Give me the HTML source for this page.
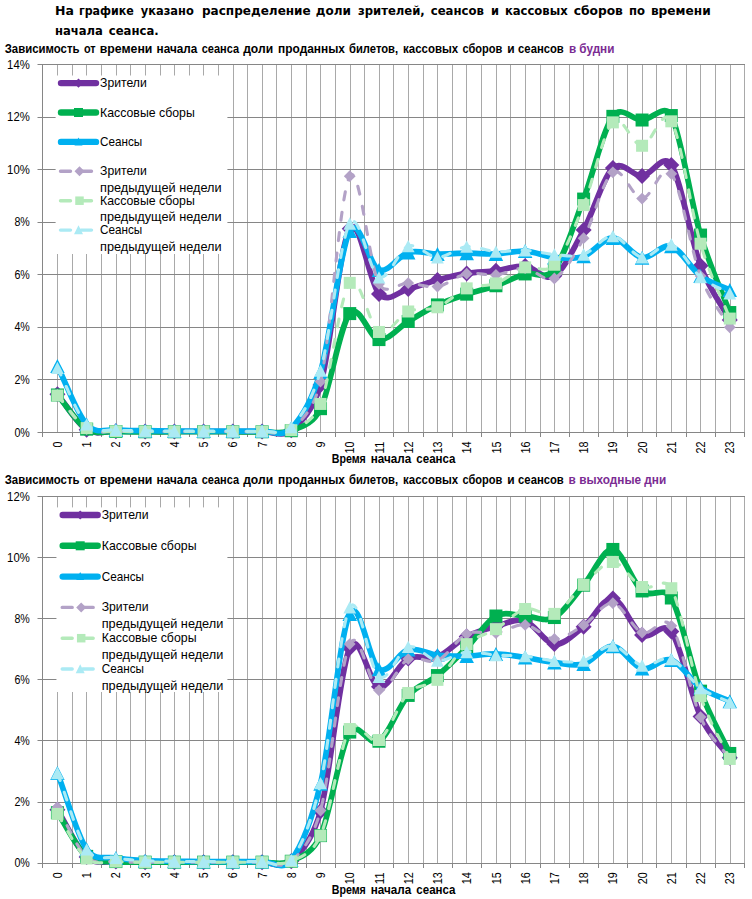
<!DOCTYPE html>
<html lang="ru"><head><meta charset="utf-8"><title>График</title>
<style>html,body{margin:0;padding:0;background:#fff}svg{display:block}</style></head>
<body>
<svg width="752" height="899" viewBox="0 0 752 899" font-family="Liberation Sans, sans-serif">
<rect width="752" height="899" fill="#fff"/>
<text x="55" y="15" font-family="DejaVu Sans, Liberation Sans, sans-serif" font-weight="bold" font-size="12.9" textLength="18.9" lengthAdjust="spacingAndGlyphs">На</text>
<text x="78.9" y="15" font-family="DejaVu Sans, Liberation Sans, sans-serif" font-weight="bold" font-size="12.9" textLength="54.9" lengthAdjust="spacingAndGlyphs">графике</text>
<text x="140.8" y="15" font-family="DejaVu Sans, Liberation Sans, sans-serif" font-weight="bold" font-size="12.9" textLength="53" lengthAdjust="spacingAndGlyphs">указано</text>
<text x="202" y="15" font-family="DejaVu Sans, Liberation Sans, sans-serif" font-weight="bold" font-size="12.9" textLength="108.7" lengthAdjust="spacingAndGlyphs">распределение</text>
<text x="315.7" y="15" font-family="DejaVu Sans, Liberation Sans, sans-serif" font-weight="bold" font-size="12.9" textLength="35.2" lengthAdjust="spacingAndGlyphs">доли</text>
<text x="357.9" y="15" font-family="DejaVu Sans, Liberation Sans, sans-serif" font-weight="bold" font-size="12.9" textLength="66.9" lengthAdjust="spacingAndGlyphs">зрителей,</text>
<text x="430.7" y="15" font-family="DejaVu Sans, Liberation Sans, sans-serif" font-weight="bold" font-size="12.9" textLength="53.3" lengthAdjust="spacingAndGlyphs">сеансов</text>
<text x="490.9" y="15" font-family="DejaVu Sans, Liberation Sans, sans-serif" font-weight="bold" font-size="12.9" textLength="8" lengthAdjust="spacingAndGlyphs">и</text>
<text x="504.9" y="15" font-family="DejaVu Sans, Liberation Sans, sans-serif" font-weight="bold" font-size="12.9" textLength="62.8" lengthAdjust="spacingAndGlyphs">кассовых</text>
<text x="573.7" y="15" font-family="DejaVu Sans, Liberation Sans, sans-serif" font-weight="bold" font-size="12.9" textLength="49.2" lengthAdjust="spacingAndGlyphs">сборов</text>
<text x="628.9" y="15" font-family="DejaVu Sans, Liberation Sans, sans-serif" font-weight="bold" font-size="12.9" textLength="16" lengthAdjust="spacingAndGlyphs">по</text>
<text x="650.9" y="15" font-family="DejaVu Sans, Liberation Sans, sans-serif" font-weight="bold" font-size="12.9" textLength="59.8" lengthAdjust="spacingAndGlyphs">времени</text>
<text x="55" y="35" font-family="DejaVu Sans, Liberation Sans, sans-serif" font-weight="bold" font-size="12.9" textLength="47.9" lengthAdjust="spacingAndGlyphs">начала</text>
<text x="108.8" y="35" font-family="DejaVu Sans, Liberation Sans, sans-serif" font-weight="bold" font-size="12.9" textLength="49.9" lengthAdjust="spacingAndGlyphs">сеанса.</text>
<path d="M57.5 64V433M72.5 64V433M86.5 64V433M101.5 64V433M116.5 64V433M130.5 64V433M145.5 64V433M160.5 64V433M174.5 64V433M189.5 64V433M203.5 64V433M218.5 64V433M233.5 64V433M247.5 64V433M262.5 64V433M276.5 64V433M291.5 64V433M306.5 64V433M320.5 64V433M335.5 64V433M350.5 64V433M364.5 64V433M379.5 64V433M393.5 64V433M408.5 64V433M423.5 64V433M437.5 64V433M452.5 64V433M466.5 64V433M481.5 64V433M496.5 64V433M510.5 64V433M525.5 64V433M540.5 64V433M554.5 64V433M569.5 64V433M583.5 64V433M598.5 64V433M613.5 64V433M627.5 64V433M642.5 64V433M656.5 64V433M671.5 64V433M686.5 64V433M700.5 64V433M715.5 64V433M730.5 64V433M744.5 64V433" stroke="#A9A9A9" stroke-width="1" fill="none"/>
<path d="M37.5 432.5H745M37.5 379.5H745M37.5 327.5H745M37.5 274.5H745M37.5 222.5H745M37.5 169.5H745M37.5 117.5H745M37.5 64.5H745M42.5 64V433M42.5 432.5V437M72.5 432.5V437M101.5 432.5V437M130.5 432.5V437M160.5 432.5V437M189.5 432.5V437M218.5 432.5V437M247.5 432.5V437M276.5 432.5V437M306.5 432.5V437M335.5 432.5V437M364.5 432.5V437M393.5 432.5V437M423.5 432.5V437M452.5 432.5V437M481.5 432.5V437M510.5 432.5V437M540.5 432.5V437M569.5 432.5V437M598.5 432.5V437M627.5 432.5V437M656.5 432.5V437M686.5 432.5V437M715.5 432.5V437M744.5 432.5V437" stroke="#868686" stroke-width="1" fill="none"/>
<rect x="55.6" y="75.5" width="171.8" height="178.5" fill="#fff"/>
<path d="M57.42 394.22C67.16 406.04 76.91 423.5 86.65 429.67C96.39 435.85 106.14 430.94 115.88 431.25C125.63 431.56 135.37 431.47 145.12 431.51C154.86 431.56 164.61 431.51 174.35 431.51C184.09 431.51 193.84 431.51 203.58 431.51C213.33 431.51 223.07 431.51 232.82 431.51C242.56 431.51 252.31 431.73 262.05 431.51C271.79 431.29 281.54 437.95 291.28 430.2C301.03 422.45 313.02 410.86 320.52 385.02C330.26 351.45 340.01 243.94 349.75 228.75C359.49 213.56 369.24 283.86 378.98 293.89C388.73 303.91 398.47 291.22 408.22 288.9C417.96 286.58 427.71 282.55 437.45 279.97C447.19 277.38 456.94 274.93 466.68 273.4C476.43 271.87 486.17 272 495.92 270.77C505.66 269.55 515.41 265.22 525.15 266.05C534.89 266.88 544.64 281.76 554.38 275.76C564.13 269.77 573.87 248.01 583.62 230.06C593.36 212.12 603.11 177.1 612.85 168.08C622.59 159.06 632.34 176.49 642.08 175.96C651.83 175.44 662.79 151.84 671.32 164.93C681.06 179.9 690.81 239.96 700.55 265.78C710.29 291.61 720.04 301.85 729.78 319.89" stroke="#7030A0" stroke-width="5.7" fill="none" stroke-linejoin="round" stroke-linecap="round"/>
<path d="M57.42 386.22L65.42 394.22L57.42 402.22L49.42 394.22Z" fill="#7030A0"/>
<path d="M86.65 421.67L94.65 429.67L86.65 437.67L78.65 429.67Z" fill="#7030A0"/>
<path d="M115.88 423.25L123.88 431.25L115.88 439.25L107.88 431.25Z" fill="#7030A0"/>
<path d="M145.12 423.51L153.12 431.51L145.12 439.51L137.12 431.51Z" fill="#7030A0"/>
<path d="M174.35 423.51L182.35 431.51L174.35 439.51L166.35 431.51Z" fill="#7030A0"/>
<path d="M203.58 423.51L211.58 431.51L203.58 439.51L195.58 431.51Z" fill="#7030A0"/>
<path d="M232.82 423.51L240.82 431.51L232.82 439.51L224.82 431.51Z" fill="#7030A0"/>
<path d="M262.05 423.51L270.05 431.51L262.05 439.51L254.05 431.51Z" fill="#7030A0"/>
<path d="M291.28 422.2L299.28 430.2L291.28 438.2L283.28 430.2Z" fill="#7030A0"/>
<path d="M320.52 377.02L328.52 385.02L320.52 393.02L312.52 385.02Z" fill="#7030A0"/>
<path d="M349.75 220.75L357.75 228.75L349.75 236.75L341.75 228.75Z" fill="#7030A0"/>
<path d="M378.98 285.89L386.98 293.89L378.98 301.89L370.98 293.89Z" fill="#7030A0"/>
<path d="M408.22 280.9L416.22 288.9L408.22 296.9L400.22 288.9Z" fill="#7030A0"/>
<path d="M437.45 271.97L445.45 279.97L437.45 287.97L429.45 279.97Z" fill="#7030A0"/>
<path d="M466.68 265.4L474.68 273.4L466.68 281.4L458.68 273.4Z" fill="#7030A0"/>
<path d="M495.92 262.77L503.92 270.77L495.92 278.77L487.92 270.77Z" fill="#7030A0"/>
<path d="M525.15 258.05L533.15 266.05L525.15 274.05L517.15 266.05Z" fill="#7030A0"/>
<path d="M554.38 267.76L562.38 275.76L554.38 283.76L546.38 275.76Z" fill="#7030A0"/>
<path d="M583.62 222.06L591.62 230.06L583.62 238.06L575.62 230.06Z" fill="#7030A0"/>
<path d="M612.85 160.08L620.85 168.08L612.85 176.08L604.85 168.08Z" fill="#7030A0"/>
<path d="M642.08 167.96L650.08 175.96L642.08 183.96L634.08 175.96Z" fill="#7030A0"/>
<path d="M671.32 156.93L679.32 164.93L671.32 172.93L663.32 164.93Z" fill="#7030A0"/>
<path d="M700.55 257.78L708.55 265.78L700.55 273.78L692.55 265.78Z" fill="#7030A0"/>
<path d="M729.78 311.89L737.78 319.89L729.78 327.89L721.78 319.89Z" fill="#7030A0"/>
<path d="M57.42 395C67.16 406.39 76.91 423.06 86.65 429.15C96.39 435.23 106.14 431.07 115.88 431.51C125.63 431.95 135.37 431.73 145.12 431.77C154.86 431.82 164.61 431.77 174.35 431.77C184.09 431.77 193.84 431.77 203.58 431.77C213.33 431.77 223.07 431.77 232.82 431.77C242.56 431.77 252.31 431.95 262.05 431.77C271.79 431.6 281.54 434.58 291.28 430.72C301.03 426.87 312.34 425.05 320.52 408.66C330.26 389.14 340.01 325.1 349.75 313.59C359.49 302.07 369.24 338.27 378.98 339.59C388.73 340.9 398.47 327.24 408.22 321.46C417.96 315.69 427.71 309.47 437.45 304.92C447.19 300.37 456.94 297.35 466.68 294.15C476.43 290.95 486.17 289.12 495.92 285.75C505.66 282.37 515.41 276.64 525.15 273.93C534.89 271.21 545.28 281.11 554.38 269.46C564.13 256.99 573.87 224.59 583.62 199.07C593.36 173.55 603.11 129.52 612.85 116.34C621.61 104.5 632.34 120.15 642.08 120.02C651.83 119.89 664.62 102.37 671.32 115.55C681.06 134.73 690.81 202.22 700.55 235.06C710.29 267.89 720.04 286.71 729.78 312.53" stroke="#00B050" stroke-width="5.7" fill="none" stroke-linejoin="round" stroke-linecap="round"/>
<rect x="50.92" y="388.5" width="13" height="13" fill="#00B050"/>
<rect x="80.15" y="422.65" width="13" height="13" fill="#00B050"/>
<rect x="109.38" y="425.01" width="13" height="13" fill="#00B050"/>
<rect x="138.62" y="425.27" width="13" height="13" fill="#00B050"/>
<rect x="167.85" y="425.27" width="13" height="13" fill="#00B050"/>
<rect x="197.08" y="425.27" width="13" height="13" fill="#00B050"/>
<rect x="226.32" y="425.27" width="13" height="13" fill="#00B050"/>
<rect x="255.55" y="425.27" width="13" height="13" fill="#00B050"/>
<rect x="284.78" y="424.22" width="13" height="13" fill="#00B050"/>
<rect x="314.02" y="402.16" width="13" height="13" fill="#00B050"/>
<rect x="343.25" y="307.09" width="13" height="13" fill="#00B050"/>
<rect x="372.48" y="333.09" width="13" height="13" fill="#00B050"/>
<rect x="401.72" y="314.96" width="13" height="13" fill="#00B050"/>
<rect x="430.95" y="298.42" width="13" height="13" fill="#00B050"/>
<rect x="460.18" y="287.65" width="13" height="13" fill="#00B050"/>
<rect x="489.42" y="279.25" width="13" height="13" fill="#00B050"/>
<rect x="518.65" y="267.43" width="13" height="13" fill="#00B050"/>
<rect x="547.88" y="262.96" width="13" height="13" fill="#00B050"/>
<rect x="577.12" y="192.57" width="13" height="13" fill="#00B050"/>
<rect x="606.35" y="109.84" width="13" height="13" fill="#00B050"/>
<rect x="635.58" y="113.52" width="13" height="13" fill="#00B050"/>
<rect x="664.82" y="109.05" width="13" height="13" fill="#00B050"/>
<rect x="694.05" y="228.56" width="13" height="13" fill="#00B050"/>
<rect x="723.28" y="306.03" width="13" height="13" fill="#00B050"/>
<path d="M57.42 366.11C67.16 385.55 76.91 413.78 86.65 424.42C96.39 435.06 106.14 428.89 115.88 429.94C125.63 430.99 135.37 430.55 145.12 430.72C154.86 430.9 164.61 430.94 174.35 430.99C184.09 431.03 193.84 430.99 203.58 430.99C213.33 430.99 223.07 430.99 232.82 430.99C242.56 430.99 252.31 431.42 262.05 430.99C271.79 430.55 281.54 438.21 291.28 428.36C301.03 418.51 311.48 402.37 320.52 371.89C330.26 339.02 340.01 248.1 349.75 231.12C359.49 214.13 369.24 266.44 378.98 269.99C388.73 273.53 398.47 255.06 408.22 252.39C417.96 249.72 427.71 253.83 437.45 253.97C447.19 254.1 456.94 253.18 466.68 253.18C476.43 253.18 486.17 254.32 495.92 253.97C505.66 253.62 515.41 250.51 525.15 251.08C534.89 251.65 544.64 256.5 554.38 257.38C564.13 258.26 573.87 259.57 583.62 256.33C593.36 253.09 603.11 237.73 612.85 237.94C622.59 238.16 632.34 256.24 642.08 257.64C651.83 259.04 661.57 243.28 671.32 246.35C681.06 249.41 690.81 268.76 700.55 276.03C710.29 283.29 720.04 285.31 729.78 289.95" stroke="#00B0F0" stroke-width="5.7" fill="none" stroke-linejoin="round" stroke-linecap="round"/>
<path d="M57.42 359.11L64.67 373.11L50.17 373.11Z" fill="#00B0F0"/>
<path d="M86.65 417.42L93.9 431.42L79.4 431.42Z" fill="#00B0F0"/>
<path d="M115.88 422.94L123.13 436.94L108.63 436.94Z" fill="#00B0F0"/>
<path d="M145.12 423.72L152.37 437.72L137.87 437.72Z" fill="#00B0F0"/>
<path d="M174.35 423.99L181.6 437.99L167.1 437.99Z" fill="#00B0F0"/>
<path d="M203.58 423.99L210.83 437.99L196.33 437.99Z" fill="#00B0F0"/>
<path d="M232.82 423.99L240.07 437.99L225.57 437.99Z" fill="#00B0F0"/>
<path d="M262.05 423.99L269.3 437.99L254.8 437.99Z" fill="#00B0F0"/>
<path d="M291.28 421.36L298.53 435.36L284.03 435.36Z" fill="#00B0F0"/>
<path d="M320.52 364.89L327.77 378.89L313.27 378.89Z" fill="#00B0F0"/>
<path d="M349.75 224.12L357 238.12L342.5 238.12Z" fill="#00B0F0"/>
<path d="M378.98 262.99L386.23 276.99L371.73 276.99Z" fill="#00B0F0"/>
<path d="M408.22 245.39L415.47 259.39L400.97 259.39Z" fill="#00B0F0"/>
<path d="M437.45 246.97L444.7 260.97L430.2 260.97Z" fill="#00B0F0"/>
<path d="M466.68 246.18L473.93 260.18L459.43 260.18Z" fill="#00B0F0"/>
<path d="M495.92 246.97L503.17 260.97L488.67 260.97Z" fill="#00B0F0"/>
<path d="M525.15 244.08L532.4 258.08L517.9 258.08Z" fill="#00B0F0"/>
<path d="M554.38 250.38L561.63 264.38L547.13 264.38Z" fill="#00B0F0"/>
<path d="M583.62 249.33L590.87 263.33L576.37 263.33Z" fill="#00B0F0"/>
<path d="M612.85 230.94L620.1 244.94L605.6 244.94Z" fill="#00B0F0"/>
<path d="M642.08 250.64L649.33 264.64L634.83 264.64Z" fill="#00B0F0"/>
<path d="M671.32 239.35L678.57 253.35L664.07 253.35Z" fill="#00B0F0"/>
<path d="M700.55 269.03L707.8 283.03L693.3 283.03Z" fill="#00B0F0"/>
<path d="M729.78 282.95L737.03 296.95L722.53 296.95Z" fill="#00B0F0"/>
<path d="M57.42 395C67.16 406.39 76.91 423.11 86.65 429.15C96.39 435.19 106.14 430.86 115.88 431.25C125.63 431.64 135.37 431.47 145.12 431.51C154.86 431.56 164.61 431.51 174.35 431.51C184.09 431.51 193.84 431.51 203.58 431.51C213.33 431.51 223.07 431.51 232.82 431.51C242.56 431.51 252.31 431.82 262.05 431.51C271.79 431.21 281.54 437.99 291.28 429.67C301.03 421.36 314.19 409.02 320.52 381.61C330.26 339.37 340.01 192.51 349.75 176.22C359.49 159.94 369.24 266.09 378.98 283.91C386 296.74 398.47 282.68 408.22 283.12C417.96 283.56 427.71 288.11 437.45 286.53C447.19 284.96 456.94 275.59 466.68 273.66C476.43 271.74 486.17 275.9 495.92 274.98C505.66 274.06 515.41 267.58 525.15 268.15C534.89 268.72 544.64 283.38 554.38 278.39C564.13 273.4 573.87 255.89 583.62 238.21C593.36 220.52 603.11 178.89 612.85 172.28C622.59 165.67 632.34 198.29 642.08 198.55C651.83 198.81 661.57 160.95 671.32 173.86C681.06 186.77 690.81 250.46 700.55 276.03C710.29 301.59 720.04 310.17 729.78 327.24" stroke="#B3A2C7" stroke-width="3.1" fill="none" stroke-linejoin="round" stroke-linecap="round" stroke-dasharray="8 12.5"/>
<path d="M57.42 389.1L63.32 395L57.42 400.9L51.52 395Z" fill="#B3A2C7"/>
<path d="M86.65 423.25L92.55 429.15L86.65 435.05L80.75 429.15Z" fill="#B3A2C7"/>
<path d="M115.88 425.35L121.78 431.25L115.88 437.15L109.98 431.25Z" fill="#B3A2C7"/>
<path d="M145.12 425.61L151.02 431.51L145.12 437.41L139.22 431.51Z" fill="#B3A2C7"/>
<path d="M174.35 425.61L180.25 431.51L174.35 437.41L168.45 431.51Z" fill="#B3A2C7"/>
<path d="M203.58 425.61L209.48 431.51L203.58 437.41L197.68 431.51Z" fill="#B3A2C7"/>
<path d="M232.82 425.61L238.72 431.51L232.82 437.41L226.92 431.51Z" fill="#B3A2C7"/>
<path d="M262.05 425.61L267.95 431.51L262.05 437.41L256.15 431.51Z" fill="#B3A2C7"/>
<path d="M291.28 423.77L297.18 429.67L291.28 435.57L285.38 429.67Z" fill="#B3A2C7"/>
<path d="M320.52 375.71L326.42 381.61L320.52 387.51L314.62 381.61Z" fill="#B3A2C7"/>
<path d="M349.75 170.32L355.65 176.22L349.75 182.12L343.85 176.22Z" fill="#B3A2C7"/>
<path d="M378.98 278.01L384.88 283.91L378.98 289.81L373.08 283.91Z" fill="#B3A2C7"/>
<path d="M408.22 277.22L414.12 283.12L408.22 289.02L402.32 283.12Z" fill="#B3A2C7"/>
<path d="M437.45 280.63L443.35 286.53L437.45 292.43L431.55 286.53Z" fill="#B3A2C7"/>
<path d="M466.68 267.76L472.58 273.66L466.68 279.56L460.78 273.66Z" fill="#B3A2C7"/>
<path d="M495.92 269.08L501.82 274.98L495.92 280.88L490.02 274.98Z" fill="#B3A2C7"/>
<path d="M525.15 262.25L531.05 268.15L525.15 274.05L519.25 268.15Z" fill="#B3A2C7"/>
<path d="M554.38 272.49L560.28 278.39L554.38 284.29L548.48 278.39Z" fill="#B3A2C7"/>
<path d="M583.62 232.31L589.52 238.21L583.62 244.11L577.72 238.21Z" fill="#B3A2C7"/>
<path d="M612.85 166.38L618.75 172.28L612.85 178.18L606.95 172.28Z" fill="#B3A2C7"/>
<path d="M642.08 192.65L647.98 198.55L642.08 204.45L636.18 198.55Z" fill="#B3A2C7"/>
<path d="M671.32 167.96L677.22 173.86L671.32 179.76L665.42 173.86Z" fill="#B3A2C7"/>
<path d="M700.55 270.13L706.45 276.03L700.55 281.93L694.65 276.03Z" fill="#B3A2C7"/>
<path d="M729.78 321.34L735.68 327.24L729.78 333.14L723.88 327.24Z" fill="#B3A2C7"/>
<path d="M57.42 395.53C67.16 406.39 76.91 422.14 86.65 428.1C96.39 434.05 106.14 430.68 115.88 431.25C125.63 431.82 135.37 431.47 145.12 431.51C154.86 431.56 164.61 431.51 174.35 431.51C184.09 431.51 193.84 431.51 203.58 431.51C213.33 431.51 223.07 431.51 232.82 431.51C242.56 431.51 252.31 431.73 262.05 431.51C271.79 431.29 281.54 434.8 291.28 430.2C301.03 425.6 313.27 422.2 320.52 403.93C330.26 379.38 340.01 294.85 349.75 282.86C359.49 270.86 369.24 327.2 378.98 331.97C388.73 336.74 398.47 315.6 408.22 311.48C417.96 307.37 427.71 311.13 437.45 307.28C447.19 303.43 456.94 292.36 466.68 288.37C476.43 284.39 486.17 286.88 495.92 283.38C505.66 279.88 515.41 270.47 525.15 267.36C534.89 264.25 544.64 275.11 554.38 264.73C564.13 254.36 573.87 228.84 583.62 205.11C593.36 181.39 603.11 132.27 612.85 122.38C622.59 112.49 632.34 145.93 642.08 145.76C651.83 145.58 661.57 105 671.32 121.33C681.06 137.66 690.81 210.85 700.55 243.72C710.29 276.6 720.04 293.62 729.78 318.58" stroke="#B4EABA" stroke-width="3.1" fill="none" stroke-linejoin="round" stroke-linecap="round" stroke-dasharray="8 12.5"/>
<rect x="51.42" y="389.53" width="12" height="12" fill="#B4EABA"/>
<rect x="80.65" y="422.1" width="12" height="12" fill="#B4EABA"/>
<rect x="109.88" y="425.25" width="12" height="12" fill="#B4EABA"/>
<rect x="139.12" y="425.51" width="12" height="12" fill="#B4EABA"/>
<rect x="168.35" y="425.51" width="12" height="12" fill="#B4EABA"/>
<rect x="197.58" y="425.51" width="12" height="12" fill="#B4EABA"/>
<rect x="226.82" y="425.51" width="12" height="12" fill="#B4EABA"/>
<rect x="256.05" y="425.51" width="12" height="12" fill="#B4EABA"/>
<rect x="285.28" y="424.2" width="12" height="12" fill="#B4EABA"/>
<rect x="314.52" y="397.93" width="12" height="12" fill="#B4EABA"/>
<rect x="343.75" y="276.86" width="12" height="12" fill="#B4EABA"/>
<rect x="372.98" y="325.97" width="12" height="12" fill="#B4EABA"/>
<rect x="402.22" y="305.48" width="12" height="12" fill="#B4EABA"/>
<rect x="431.45" y="301.28" width="12" height="12" fill="#B4EABA"/>
<rect x="460.68" y="282.37" width="12" height="12" fill="#B4EABA"/>
<rect x="489.92" y="277.38" width="12" height="12" fill="#B4EABA"/>
<rect x="519.15" y="261.36" width="12" height="12" fill="#B4EABA"/>
<rect x="548.38" y="258.73" width="12" height="12" fill="#B4EABA"/>
<rect x="577.62" y="199.11" width="12" height="12" fill="#B4EABA"/>
<rect x="606.85" y="116.38" width="12" height="12" fill="#B4EABA"/>
<rect x="636.08" y="139.76" width="12" height="12" fill="#B4EABA"/>
<rect x="665.32" y="115.33" width="12" height="12" fill="#B4EABA"/>
<rect x="694.55" y="237.72" width="12" height="12" fill="#B4EABA"/>
<rect x="723.78" y="312.58" width="12" height="12" fill="#B4EABA"/>
<path d="M57.42 367.95C67.16 386.78 76.91 414.09 86.65 424.42C96.39 434.75 106.14 428.89 115.88 429.94C125.63 430.99 135.37 430.55 145.12 430.72C154.86 430.9 164.61 430.94 174.35 430.99C184.09 431.03 193.84 430.99 203.58 430.99C213.33 430.99 223.07 430.99 232.82 430.99C242.56 430.99 252.31 431.64 262.05 430.99C271.79 430.33 281.54 437.12 291.28 427.05C301.03 416.98 311.74 401.14 320.52 370.58C330.26 336.65 340.01 239.04 349.75 223.5C359.49 207.96 369.24 273.58 378.98 277.34C388.73 281.11 398.47 249.41 408.22 246.09C417.96 242.76 427.71 257.29 437.45 257.38C447.19 257.47 456.94 247.57 466.68 246.61C476.43 245.65 486.17 250.99 495.92 251.6C505.66 252.21 515.41 249.81 525.15 250.29C534.89 250.77 544.64 253.79 554.38 254.49C564.13 255.19 573.87 257.55 583.62 254.49C593.36 251.43 603.11 235.62 612.85 236.11C622.59 236.59 632.34 255.98 642.08 257.38C651.83 258.78 661.57 241.23 671.32 244.51C681.06 247.79 690.81 268.94 700.55 277.08C710.29 285.22 720.04 287.93 729.78 293.36" stroke="#ABEAF4" stroke-width="3.1" fill="none" stroke-linejoin="round" stroke-linecap="round" stroke-dasharray="8 12.5"/>
<path d="M57.42 361.8L63.82 374.1L51.02 374.1Z" fill="#ABEAF4"/>
<path d="M86.65 418.27L93.05 430.57L80.25 430.57Z" fill="#ABEAF4"/>
<path d="M115.88 423.79L122.28 436.09L109.48 436.09Z" fill="#ABEAF4"/>
<path d="M145.12 424.57L151.52 436.87L138.72 436.87Z" fill="#ABEAF4"/>
<path d="M174.35 424.84L180.75 437.14L167.95 437.14Z" fill="#ABEAF4"/>
<path d="M203.58 424.84L209.98 437.14L197.18 437.14Z" fill="#ABEAF4"/>
<path d="M232.82 424.84L239.22 437.14L226.42 437.14Z" fill="#ABEAF4"/>
<path d="M262.05 424.84L268.45 437.14L255.65 437.14Z" fill="#ABEAF4"/>
<path d="M291.28 420.9L297.68 433.2L284.88 433.2Z" fill="#ABEAF4"/>
<path d="M320.52 364.43L326.92 376.73L314.12 376.73Z" fill="#ABEAF4"/>
<path d="M349.75 217.35L356.15 229.65L343.35 229.65Z" fill="#ABEAF4"/>
<path d="M378.98 271.19L385.38 283.49L372.58 283.49Z" fill="#ABEAF4"/>
<path d="M408.22 239.94L414.62 252.24L401.82 252.24Z" fill="#ABEAF4"/>
<path d="M437.45 251.23L443.85 263.53L431.05 263.53Z" fill="#ABEAF4"/>
<path d="M466.68 240.46L473.08 252.76L460.28 252.76Z" fill="#ABEAF4"/>
<path d="M495.92 245.45L502.32 257.75L489.52 257.75Z" fill="#ABEAF4"/>
<path d="M525.15 244.14L531.55 256.44L518.75 256.44Z" fill="#ABEAF4"/>
<path d="M554.38 248.34L560.78 260.64L547.98 260.64Z" fill="#ABEAF4"/>
<path d="M583.62 248.34L590.02 260.64L577.22 260.64Z" fill="#ABEAF4"/>
<path d="M612.85 229.96L619.25 242.26L606.45 242.26Z" fill="#ABEAF4"/>
<path d="M642.08 251.23L648.48 263.53L635.68 263.53Z" fill="#ABEAF4"/>
<path d="M671.32 238.36L677.72 250.66L664.92 250.66Z" fill="#ABEAF4"/>
<path d="M700.55 270.93L706.95 283.23L694.15 283.23Z" fill="#ABEAF4"/>
<path d="M729.78 287.21L736.18 299.51L723.38 299.51Z" fill="#ABEAF4"/>
<text x="29.8" y="436.5" font-size="12.7" fill="#000" text-anchor="end" textLength="15.4" lengthAdjust="spacingAndGlyphs" >0%</text>
<text x="29.8" y="383.97" font-size="12.7" fill="#000" text-anchor="end" textLength="15.4" lengthAdjust="spacingAndGlyphs" >2%</text>
<text x="29.8" y="331.44" font-size="12.7" fill="#000" text-anchor="end" textLength="15.4" lengthAdjust="spacingAndGlyphs" >4%</text>
<text x="29.8" y="278.91" font-size="12.7" fill="#000" text-anchor="end" textLength="15.4" lengthAdjust="spacingAndGlyphs" >6%</text>
<text x="29.8" y="226.39" font-size="12.7" fill="#000" text-anchor="end" textLength="15.4" lengthAdjust="spacingAndGlyphs" >8%</text>
<text x="29.8" y="173.86" font-size="12.7" fill="#000" text-anchor="end" textLength="22.7" lengthAdjust="spacingAndGlyphs" >10%</text>
<text x="29.8" y="121.33" font-size="12.7" fill="#000" text-anchor="end" textLength="22.7" lengthAdjust="spacingAndGlyphs" >12%</text>
<text x="29.8" y="68.8" font-size="12.7" fill="#000" text-anchor="end" textLength="22.7" lengthAdjust="spacingAndGlyphs" >14%</text>
<text transform="translate(62.02 441.5) rotate(-90)" font-size="12.4" text-anchor="end" textLength="6" lengthAdjust="spacingAndGlyphs">0</text>
<text transform="translate(91.25 441.5) rotate(-90)" font-size="12.4" text-anchor="end" textLength="6" lengthAdjust="spacingAndGlyphs">1</text>
<text transform="translate(120.48 441.5) rotate(-90)" font-size="12.4" text-anchor="end" textLength="6" lengthAdjust="spacingAndGlyphs">2</text>
<text transform="translate(149.72 441.5) rotate(-90)" font-size="12.4" text-anchor="end" textLength="6" lengthAdjust="spacingAndGlyphs">3</text>
<text transform="translate(178.95 441.5) rotate(-90)" font-size="12.4" text-anchor="end" textLength="6" lengthAdjust="spacingAndGlyphs">4</text>
<text transform="translate(208.18 441.5) rotate(-90)" font-size="12.4" text-anchor="end" textLength="6" lengthAdjust="spacingAndGlyphs">5</text>
<text transform="translate(237.42 441.5) rotate(-90)" font-size="12.4" text-anchor="end" textLength="6" lengthAdjust="spacingAndGlyphs">6</text>
<text transform="translate(266.65 441.5) rotate(-90)" font-size="12.4" text-anchor="end" textLength="6" lengthAdjust="spacingAndGlyphs">7</text>
<text transform="translate(295.88 441.5) rotate(-90)" font-size="12.4" text-anchor="end" textLength="6" lengthAdjust="spacingAndGlyphs">8</text>
<text transform="translate(325.12 441.5) rotate(-90)" font-size="12.4" text-anchor="end" textLength="6" lengthAdjust="spacingAndGlyphs">9</text>
<text transform="translate(354.35 441.5) rotate(-90)" font-size="12.4" text-anchor="end" textLength="12" lengthAdjust="spacingAndGlyphs">10</text>
<text transform="translate(383.58 441.5) rotate(-90)" font-size="12.4" text-anchor="end" textLength="12" lengthAdjust="spacingAndGlyphs">11</text>
<text transform="translate(412.82 441.5) rotate(-90)" font-size="12.4" text-anchor="end" textLength="12" lengthAdjust="spacingAndGlyphs">12</text>
<text transform="translate(442.05 441.5) rotate(-90)" font-size="12.4" text-anchor="end" textLength="12" lengthAdjust="spacingAndGlyphs">13</text>
<text transform="translate(471.28 441.5) rotate(-90)" font-size="12.4" text-anchor="end" textLength="12" lengthAdjust="spacingAndGlyphs">14</text>
<text transform="translate(500.52 441.5) rotate(-90)" font-size="12.4" text-anchor="end" textLength="12" lengthAdjust="spacingAndGlyphs">15</text>
<text transform="translate(529.75 441.5) rotate(-90)" font-size="12.4" text-anchor="end" textLength="12" lengthAdjust="spacingAndGlyphs">16</text>
<text transform="translate(558.98 441.5) rotate(-90)" font-size="12.4" text-anchor="end" textLength="12" lengthAdjust="spacingAndGlyphs">17</text>
<text transform="translate(588.22 441.5) rotate(-90)" font-size="12.4" text-anchor="end" textLength="12" lengthAdjust="spacingAndGlyphs">18</text>
<text transform="translate(617.45 441.5) rotate(-90)" font-size="12.4" text-anchor="end" textLength="12" lengthAdjust="spacingAndGlyphs">19</text>
<text transform="translate(646.68 441.5) rotate(-90)" font-size="12.4" text-anchor="end" textLength="12" lengthAdjust="spacingAndGlyphs">20</text>
<text transform="translate(675.92 441.5) rotate(-90)" font-size="12.4" text-anchor="end" textLength="12" lengthAdjust="spacingAndGlyphs">21</text>
<text transform="translate(705.15 441.5) rotate(-90)" font-size="12.4" text-anchor="end" textLength="12" lengthAdjust="spacingAndGlyphs">22</text>
<text transform="translate(734.38 441.5) rotate(-90)" font-size="12.4" text-anchor="end" textLength="12" lengthAdjust="spacingAndGlyphs">23</text>
<text x="331.7" y="463.3" font-size="13.3" fill="#000" font-weight="bold" textLength="34.1" lengthAdjust="spacingAndGlyphs" >Время</text>
<text x="370.8" y="463.3" font-size="13.3" fill="#000" font-weight="bold" textLength="40.5" lengthAdjust="spacingAndGlyphs" >начала</text>
<text x="416.3" y="463.3" font-size="13.3" fill="#000" font-weight="bold" textLength="39.2" lengthAdjust="spacingAndGlyphs" >сеанса</text>
<text x="4.7" y="52.9" font-size="13.3" fill="#000" font-weight="bold" textLength="74.8" lengthAdjust="spacingAndGlyphs" >Зависимость</text>
<text x="83.9" y="52.9" font-size="13.3" fill="#000" font-weight="bold" textLength="11.7" lengthAdjust="spacingAndGlyphs" >от</text>
<text x="99.7" y="52.9" font-size="13.3" fill="#000" font-weight="bold" textLength="52.7" lengthAdjust="spacingAndGlyphs" >времени</text>
<text x="156.6" y="52.9" font-size="13.3" fill="#000" font-weight="bold" textLength="40.7" lengthAdjust="spacingAndGlyphs" >начала</text>
<text x="201.7" y="52.9" font-size="13.3" fill="#000" font-weight="bold" textLength="37.3" lengthAdjust="spacingAndGlyphs" >сеанса</text>
<text x="243.2" y="52.9" font-size="13.3" fill="#000" font-weight="bold" textLength="29.9" lengthAdjust="spacingAndGlyphs" >доли</text>
<text x="278.1" y="52.9" font-size="13.3" fill="#000" font-weight="bold" textLength="66.8" lengthAdjust="spacingAndGlyphs" >проданных</text>
<text x="349" y="52.9" font-size="13.3" fill="#000" font-weight="bold" textLength="49.1" lengthAdjust="spacingAndGlyphs" >билетов,</text>
<text x="403.1" y="52.9" font-size="13.3" fill="#000" font-weight="bold" textLength="55.1" lengthAdjust="spacingAndGlyphs" >кассовых</text>
<text x="462.4" y="52.9" font-size="13.3" fill="#000" font-weight="bold" textLength="39.9" lengthAdjust="spacingAndGlyphs" >сборов</text>
<text x="507.3" y="52.9" font-size="13.3" fill="#000" font-weight="bold" textLength="7.4" lengthAdjust="spacingAndGlyphs" >и</text>
<text x="518.1" y="52.9" font-size="13.3" fill="#000" font-weight="bold" textLength="45.7" lengthAdjust="spacingAndGlyphs" >сеансов</text>
<text x="568.9" y="52.9" font-size="13.3" fill="#7B2C93" font-weight="bold" textLength="45.5" lengthAdjust="spacingAndGlyphs" >в будни</text>
<g transform="translate(0 0)">
<path d="M61 83.1H96" stroke="#7030A0" stroke-width="6.4" stroke-linecap="round"/>
<path d="M78.5 78.5L83.1 83.1L78.5 87.7L73.9 83.1Z" fill="#7030A0"/>
<text x="100" y="87.1" font-size="13" fill="#000" textLength="46.8" lengthAdjust="spacingAndGlyphs" >Зрители</text>
</g>
<g transform="translate(0 0)">
<path d="M61 112.5H96" stroke="#00B050" stroke-width="6.4" stroke-linecap="round"/>
<rect x="74" y="108" width="9" height="9" fill="#00B050"/>
<text x="100" y="116.5" font-size="13" fill="#000" textLength="94.8" lengthAdjust="spacingAndGlyphs" >Кассовые сборы</text>
</g>
<g transform="translate(0 0)">
<path d="M61 141.9H96" stroke="#00B0F0" stroke-width="6.4" stroke-linecap="round"/>
<path d="M78.5 137.4L82.5 145.4L74.5 145.4Z" fill="#00B0F0"/>
<text x="100" y="145.9" font-size="13" fill="#000" textLength="42.2" lengthAdjust="spacingAndGlyphs" >Сеансы</text>
</g>
<g transform="translate(0 0)">
<path d="M60.5 171.3H70.5M81 171.3H91.5" stroke="#B3A2C7" stroke-width="3.4" stroke-linecap="round"/>
<path d="M79.5 166.3L84.5 171.3L79.5 176.3L74.5 171.3Z" fill="#B3A2C7"/>
<text x="100" y="175.3" font-size="13" fill="#000" textLength="46.8" lengthAdjust="spacingAndGlyphs" >Зрители</text>
<text x="100" y="191.8" font-size="13" fill="#000" textLength="121.6" lengthAdjust="spacingAndGlyphs" >предыдущей недели</text>
</g>
<g transform="translate(0 0)">
<path d="M60.5 200.7H70.5M81 200.7H91.5" stroke="#B4EABA" stroke-width="3.4" stroke-linecap="round"/>
<rect x="75.25" y="196.45" width="8.5" height="8.5" fill="#B4EABA"/>
<text x="100" y="204.7" font-size="13" fill="#000" textLength="94.8" lengthAdjust="spacingAndGlyphs" >Кассовые сборы</text>
<text x="100" y="221.2" font-size="13" fill="#000" textLength="121.6" lengthAdjust="spacingAndGlyphs" >предыдущей недели</text>
</g>
<g transform="translate(0 0)">
<path d="M60.5 230.1H70.5M81 230.1H91.5" stroke="#ABEAF4" stroke-width="3.4" stroke-linecap="round"/>
<path d="M78.5 225.3L83 234.3L74 234.3Z" fill="#ABEAF4"/>
<text x="100" y="234.1" font-size="13" fill="#000" textLength="42.2" lengthAdjust="spacingAndGlyphs" >Сеансы</text>
<text x="100" y="250.6" font-size="13" fill="#000" textLength="121.6" lengthAdjust="spacingAndGlyphs" >предыдущей недели</text>
</g>
<path d="M57.5 496V864M72.5 496V864M86.5 496V864M101.5 496V864M116.5 496V864M130.5 496V864M145.5 496V864M160.5 496V864M174.5 496V864M189.5 496V864M203.5 496V864M218.5 496V864M233.5 496V864M247.5 496V864M262.5 496V864M276.5 496V864M291.5 496V864M306.5 496V864M320.5 496V864M335.5 496V864M350.5 496V864M364.5 496V864M379.5 496V864M393.5 496V864M408.5 496V864M423.5 496V864M437.5 496V864M452.5 496V864M466.5 496V864M481.5 496V864M496.5 496V864M510.5 496V864M525.5 496V864M540.5 496V864M554.5 496V864M569.5 496V864M583.5 496V864M598.5 496V864M613.5 496V864M627.5 496V864M642.5 496V864M656.5 496V864M671.5 496V864M686.5 496V864M700.5 496V864M715.5 496V864M730.5 496V864M744.5 496V864" stroke="#A9A9A9" stroke-width="1" fill="none"/>
<path d="M37.5 863.5H745M37.5 802.5H745M37.5 740.5H745M37.5 679.5H745M37.5 618.5H745M37.5 557.5H745M37.5 496.5H745M42.5 496V864M42.5 863.5V868M72.5 863.5V868M101.5 863.5V868M130.5 863.5V868M160.5 863.5V868M189.5 863.5V868M218.5 863.5V868M247.5 863.5V868M276.5 863.5V868M306.5 863.5V868M335.5 863.5V868M364.5 863.5V868M393.5 863.5V868M423.5 863.5V868M452.5 863.5V868M481.5 863.5V868M510.5 863.5V868M540.5 863.5V868M569.5 863.5V868M598.5 863.5V868M627.5 863.5V868M656.5 863.5V868M686.5 863.5V868M715.5 863.5V868M744.5 863.5V868" stroke="#868686" stroke-width="1" fill="none"/>
<rect x="56.45" y="507.4" width="170.95" height="184.6" fill="#fff"/>
<path d="M57.42 809.65C67.16 825.43 76.91 848.34 86.65 856.99C96.39 865.65 106.14 860.71 115.88 861.57C125.63 862.44 135.37 862.08 145.12 862.18C154.86 862.29 164.61 862.18 174.35 862.18C184.09 862.18 193.84 862.18 203.58 862.18C213.33 862.18 223.07 862.18 232.82 862.18C242.56 862.18 252.31 862.34 262.05 862.18C271.79 862.03 281.54 869.77 291.28 861.27C301.03 852.77 312.85 839.14 320.52 811.18C330.26 775.65 340.01 668.8 349.75 648.09C359.49 627.37 369.24 685.14 378.98 686.87C388.73 688.61 398.47 663.46 408.22 658.47C417.96 653.48 427.71 660.61 437.45 656.94C447.19 653.28 456.94 641.57 466.68 636.48C476.43 631.39 486.17 629 495.92 626.4C505.66 623.81 515.41 617.95 525.15 620.9C534.89 623.86 544.64 643.15 554.38 644.12C564.13 645.08 573.87 634.29 583.62 626.71C593.36 619.12 603.11 597.23 612.85 598.61C622.59 599.98 632.34 629.46 642.08 634.95C651.83 640.45 662.74 619.64 671.32 631.59C681.06 645.19 690.81 695.48 700.55 716.5C710.29 737.52 720.04 743.99 729.78 757.73" stroke="#7030A0" stroke-width="5.7" fill="none" stroke-linejoin="round" stroke-linecap="round"/>
<path d="M57.42 801.65L65.42 809.65L57.42 817.65L49.42 809.65Z" fill="#7030A0"/>
<path d="M86.65 848.99L94.65 856.99L86.65 864.99L78.65 856.99Z" fill="#7030A0"/>
<path d="M115.88 853.57L123.88 861.57L115.88 869.57L107.88 861.57Z" fill="#7030A0"/>
<path d="M145.12 854.18L153.12 862.18L145.12 870.18L137.12 862.18Z" fill="#7030A0"/>
<path d="M174.35 854.18L182.35 862.18L174.35 870.18L166.35 862.18Z" fill="#7030A0"/>
<path d="M203.58 854.18L211.58 862.18L203.58 870.18L195.58 862.18Z" fill="#7030A0"/>
<path d="M232.82 854.18L240.82 862.18L232.82 870.18L224.82 862.18Z" fill="#7030A0"/>
<path d="M262.05 854.18L270.05 862.18L262.05 870.18L254.05 862.18Z" fill="#7030A0"/>
<path d="M291.28 853.27L299.28 861.27L291.28 869.27L283.28 861.27Z" fill="#7030A0"/>
<path d="M320.52 803.18L328.52 811.18L320.52 819.18L312.52 811.18Z" fill="#7030A0"/>
<path d="M349.75 640.09L357.75 648.09L349.75 656.09L341.75 648.09Z" fill="#7030A0"/>
<path d="M378.98 678.87L386.98 686.87L378.98 694.87L370.98 686.87Z" fill="#7030A0"/>
<path d="M408.22 650.47L416.22 658.47L408.22 666.47L400.22 658.47Z" fill="#7030A0"/>
<path d="M437.45 648.94L445.45 656.94L437.45 664.94L429.45 656.94Z" fill="#7030A0"/>
<path d="M466.68 628.48L474.68 636.48L466.68 644.48L458.68 636.48Z" fill="#7030A0"/>
<path d="M495.92 618.4L503.92 626.4L495.92 634.4L487.92 626.4Z" fill="#7030A0"/>
<path d="M525.15 612.9L533.15 620.9L525.15 628.9L517.15 620.9Z" fill="#7030A0"/>
<path d="M554.38 636.12L562.38 644.12L554.38 652.12L546.38 644.12Z" fill="#7030A0"/>
<path d="M583.62 618.71L591.62 626.71L583.62 634.71L575.62 626.71Z" fill="#7030A0"/>
<path d="M612.85 590.61L620.85 598.61L612.85 606.61L604.85 598.61Z" fill="#7030A0"/>
<path d="M642.08 626.95L650.08 634.95L642.08 642.95L634.08 634.95Z" fill="#7030A0"/>
<path d="M671.32 623.59L679.32 631.59L671.32 639.59L663.32 631.59Z" fill="#7030A0"/>
<path d="M700.55 708.5L708.55 716.5L700.55 724.5L692.55 716.5Z" fill="#7030A0"/>
<path d="M729.78 749.73L737.78 757.73L729.78 765.73L721.78 757.73Z" fill="#7030A0"/>
<path d="M57.42 812.71C67.16 827.26 76.91 848.24 86.65 856.38C96.39 864.53 106.14 860.61 115.88 861.57C125.63 862.54 135.37 862.08 145.12 862.18C154.86 862.29 164.61 862.18 174.35 862.18C184.09 862.18 193.84 862.18 203.58 862.18C213.33 862.18 223.07 862.18 232.82 862.18C242.56 862.18 252.31 862.34 262.05 862.18C271.79 862.03 281.54 865.7 291.28 861.27C301.03 856.84 312.5 853.33 320.52 835.61C330.26 814.08 340.01 747.81 349.75 732.08C357.82 719.05 369.24 747.35 378.98 741.24C388.73 735.13 398.47 706.37 408.22 695.43C417.96 684.48 427.71 683.51 437.45 675.57C447.19 667.63 456.94 657.71 466.68 647.78C476.43 637.86 486.17 621.31 495.92 616.02C505.66 610.72 515.41 615.76 525.15 616.02C534.89 616.27 544.64 622.69 554.38 617.55C564.13 612.4 573.87 596.52 583.62 585.17C593.36 573.82 603.11 548.47 612.85 549.44C622.59 550.4 632.34 582.88 642.08 590.97C651.83 599.07 663.74 585.02 671.32 598C681.06 614.69 690.81 665.24 700.55 691.15C710.29 717.06 720.04 732.69 729.78 753.46" stroke="#00B050" stroke-width="5.7" fill="none" stroke-linejoin="round" stroke-linecap="round"/>
<rect x="50.92" y="806.21" width="13" height="13" fill="#00B050"/>
<rect x="80.15" y="849.88" width="13" height="13" fill="#00B050"/>
<rect x="109.38" y="855.07" width="13" height="13" fill="#00B050"/>
<rect x="138.62" y="855.68" width="13" height="13" fill="#00B050"/>
<rect x="167.85" y="855.68" width="13" height="13" fill="#00B050"/>
<rect x="197.08" y="855.68" width="13" height="13" fill="#00B050"/>
<rect x="226.32" y="855.68" width="13" height="13" fill="#00B050"/>
<rect x="255.55" y="855.68" width="13" height="13" fill="#00B050"/>
<rect x="284.78" y="854.77" width="13" height="13" fill="#00B050"/>
<rect x="314.02" y="829.11" width="13" height="13" fill="#00B050"/>
<rect x="343.25" y="725.58" width="13" height="13" fill="#00B050"/>
<rect x="372.48" y="734.74" width="13" height="13" fill="#00B050"/>
<rect x="401.72" y="688.93" width="13" height="13" fill="#00B050"/>
<rect x="430.95" y="669.07" width="13" height="13" fill="#00B050"/>
<rect x="460.18" y="641.28" width="13" height="13" fill="#00B050"/>
<rect x="489.42" y="609.52" width="13" height="13" fill="#00B050"/>
<rect x="518.65" y="609.52" width="13" height="13" fill="#00B050"/>
<rect x="547.88" y="611.05" width="13" height="13" fill="#00B050"/>
<rect x="577.12" y="578.67" width="13" height="13" fill="#00B050"/>
<rect x="606.35" y="542.94" width="13" height="13" fill="#00B050"/>
<rect x="635.58" y="584.47" width="13" height="13" fill="#00B050"/>
<rect x="664.82" y="591.5" width="13" height="13" fill="#00B050"/>
<rect x="694.05" y="684.65" width="13" height="13" fill="#00B050"/>
<rect x="723.28" y="746.96" width="13" height="13" fill="#00B050"/>
<path d="M57.42 773C67.16 798.45 76.91 835.21 86.65 849.36C95.29 861.9 106.14 856.02 115.88 857.91C125.63 859.79 135.37 860.1 145.12 860.66C154.86 861.22 164.61 861.11 174.35 861.27C184.09 861.42 193.84 861.52 203.58 861.57C213.33 861.62 223.07 861.57 232.82 861.57C242.56 861.57 252.31 861.83 262.05 861.57C271.79 861.32 282.5 871.75 291.28 860.05C301.03 847.07 311.07 823.46 320.52 783.69C330.26 742.66 340.01 632.97 349.75 613.88C359.49 594.79 369.24 663.2 378.98 669.16C388.73 675.12 398.47 651.96 408.22 649.61C417.96 647.27 427.71 654.04 437.45 655.11C447.19 656.18 456.94 656.23 466.68 656.03C476.43 655.82 486.17 653.64 495.92 653.89C505.66 654.14 515.41 656.13 525.15 657.55C534.89 658.98 544.64 661.37 554.38 662.44C564.13 663.51 573.87 666.67 583.62 663.97C593.36 661.27 603.11 645.49 612.85 646.25C622.59 647.02 632.34 666.26 642.08 668.55C651.83 670.84 661.57 656.84 671.32 660C681.06 663.15 690.81 680.61 700.55 687.49C710.29 694.36 720.04 696.65 729.78 701.23" stroke="#00B0F0" stroke-width="5.7" fill="none" stroke-linejoin="round" stroke-linecap="round"/>
<path d="M57.42 766L64.67 780L50.17 780Z" fill="#00B0F0"/>
<path d="M86.65 842.36L93.9 856.36L79.4 856.36Z" fill="#00B0F0"/>
<path d="M115.88 850.91L123.13 864.91L108.63 864.91Z" fill="#00B0F0"/>
<path d="M145.12 853.66L152.37 867.66L137.87 867.66Z" fill="#00B0F0"/>
<path d="M174.35 854.27L181.6 868.27L167.1 868.27Z" fill="#00B0F0"/>
<path d="M203.58 854.57L210.83 868.57L196.33 868.57Z" fill="#00B0F0"/>
<path d="M232.82 854.57L240.07 868.57L225.57 868.57Z" fill="#00B0F0"/>
<path d="M262.05 854.57L269.3 868.57L254.8 868.57Z" fill="#00B0F0"/>
<path d="M291.28 853.05L298.53 867.05L284.03 867.05Z" fill="#00B0F0"/>
<path d="M320.52 776.69L327.77 790.69L313.27 790.69Z" fill="#00B0F0"/>
<path d="M349.75 606.88L357 620.88L342.5 620.88Z" fill="#00B0F0"/>
<path d="M378.98 662.16L386.23 676.16L371.73 676.16Z" fill="#00B0F0"/>
<path d="M408.22 642.61L415.47 656.61L400.97 656.61Z" fill="#00B0F0"/>
<path d="M437.45 648.11L444.7 662.11L430.2 662.11Z" fill="#00B0F0"/>
<path d="M466.68 649.03L473.93 663.03L459.43 663.03Z" fill="#00B0F0"/>
<path d="M495.92 646.89L503.17 660.89L488.67 660.89Z" fill="#00B0F0"/>
<path d="M525.15 650.55L532.4 664.55L517.9 664.55Z" fill="#00B0F0"/>
<path d="M554.38 655.44L561.63 669.44L547.13 669.44Z" fill="#00B0F0"/>
<path d="M583.62 656.97L590.87 670.97L576.37 670.97Z" fill="#00B0F0"/>
<path d="M612.85 639.25L620.1 653.25L605.6 653.25Z" fill="#00B0F0"/>
<path d="M642.08 661.55L649.33 675.55L634.83 675.55Z" fill="#00B0F0"/>
<path d="M671.32 653L678.57 667L664.07 667Z" fill="#00B0F0"/>
<path d="M700.55 680.49L707.8 694.49L693.3 694.49Z" fill="#00B0F0"/>
<path d="M729.78 694.23L737.03 708.23L722.53 708.23Z" fill="#00B0F0"/>
<path d="M57.42 807.51C67.16 824.01 76.91 847.98 86.65 856.99C96.39 866 106.14 860.71 115.88 861.57C125.63 862.44 135.37 862.08 145.12 862.18C154.86 862.29 164.61 862.18 174.35 862.18C184.09 862.18 193.84 862.18 203.58 862.18C213.33 862.18 223.07 862.18 232.82 862.18C242.56 862.18 252.31 862.34 262.05 862.18C271.79 862.03 281.54 869.87 291.28 861.27C301.03 852.66 312.91 838.82 320.52 810.57C330.26 774.38 340.01 664.17 349.75 644.12C359.49 624.06 369.24 687.74 378.98 690.23C388.73 692.73 398.47 664.02 408.22 659.08C417.96 654.14 427.71 664.78 437.45 660.61C447.19 656.43 456.94 638.62 466.68 634.04C476.43 629.46 486.17 634.65 495.92 633.12C505.66 631.59 515.41 623.91 525.15 624.88C534.89 625.84 544.64 638.87 554.38 638.92C564.13 638.98 573.87 631.14 583.62 625.18C593.36 619.22 603.11 601.97 612.85 603.19C622.59 604.41 632.34 628.74 642.08 632.51C651.83 636.28 662.79 613.45 671.32 625.79C681.06 639.89 690.81 694.97 700.55 717.11C710.29 739.25 720.04 744.8 729.78 758.65" stroke="#B3A2C7" stroke-width="3.1" fill="none" stroke-linejoin="round" stroke-linecap="round" stroke-dasharray="8 12.5"/>
<path d="M57.42 801.61L63.32 807.51L57.42 813.41L51.52 807.51Z" fill="#B3A2C7"/>
<path d="M86.65 851.09L92.55 856.99L86.65 862.89L80.75 856.99Z" fill="#B3A2C7"/>
<path d="M115.88 855.67L121.78 861.57L115.88 867.47L109.98 861.57Z" fill="#B3A2C7"/>
<path d="M145.12 856.28L151.02 862.18L145.12 868.08L139.22 862.18Z" fill="#B3A2C7"/>
<path d="M174.35 856.28L180.25 862.18L174.35 868.08L168.45 862.18Z" fill="#B3A2C7"/>
<path d="M203.58 856.28L209.48 862.18L203.58 868.08L197.68 862.18Z" fill="#B3A2C7"/>
<path d="M232.82 856.28L238.72 862.18L232.82 868.08L226.92 862.18Z" fill="#B3A2C7"/>
<path d="M262.05 856.28L267.95 862.18L262.05 868.08L256.15 862.18Z" fill="#B3A2C7"/>
<path d="M291.28 855.37L297.18 861.27L291.28 867.17L285.38 861.27Z" fill="#B3A2C7"/>
<path d="M320.52 804.67L326.42 810.57L320.52 816.47L314.62 810.57Z" fill="#B3A2C7"/>
<path d="M349.75 638.22L355.65 644.12L349.75 650.02L343.85 644.12Z" fill="#B3A2C7"/>
<path d="M378.98 684.33L384.88 690.23L378.98 696.13L373.08 690.23Z" fill="#B3A2C7"/>
<path d="M408.22 653.18L414.12 659.08L408.22 664.98L402.32 659.08Z" fill="#B3A2C7"/>
<path d="M437.45 654.71L443.35 660.61L437.45 666.51L431.55 660.61Z" fill="#B3A2C7"/>
<path d="M466.68 628.14L472.58 634.04L466.68 639.94L460.78 634.04Z" fill="#B3A2C7"/>
<path d="M495.92 627.22L501.82 633.12L495.92 639.02L490.02 633.12Z" fill="#B3A2C7"/>
<path d="M525.15 618.98L531.05 624.88L525.15 630.77L519.25 624.88Z" fill="#B3A2C7"/>
<path d="M554.38 633.02L560.28 638.92L554.38 644.82L548.48 638.92Z" fill="#B3A2C7"/>
<path d="M583.62 619.28L589.52 625.18L583.62 631.08L577.72 625.18Z" fill="#B3A2C7"/>
<path d="M612.85 597.29L618.75 603.19L612.85 609.09L606.95 603.19Z" fill="#B3A2C7"/>
<path d="M642.08 626.61L647.98 632.51L642.08 638.41L636.18 632.51Z" fill="#B3A2C7"/>
<path d="M671.32 619.89L677.22 625.79L671.32 631.69L665.42 625.79Z" fill="#B3A2C7"/>
<path d="M700.55 711.21L706.45 717.11L700.55 723.01L694.65 717.11Z" fill="#B3A2C7"/>
<path d="M729.78 752.75L735.68 758.65L729.78 764.55L723.88 758.65Z" fill="#B3A2C7"/>
<path d="M57.42 813.93C67.16 828.79 76.91 850.58 86.65 858.52C96.39 866.46 106.14 860.96 115.88 861.57C125.63 862.18 135.37 862.08 145.12 862.18C154.86 862.29 164.61 862.18 174.35 862.18C184.09 862.18 193.84 862.18 203.58 862.18C213.33 862.18 223.07 862.18 232.82 862.18C242.56 862.18 252.31 862.34 262.05 862.18C271.79 862.03 281.54 865.7 291.28 861.27C301.03 856.84 312.65 853.4 320.52 835.61C330.26 813.57 340.01 744.95 349.75 729.02C357.9 715.7 369.24 746.02 378.98 740.02C388.73 734.01 398.47 703.01 408.22 692.98C417.96 682.96 427.71 687.99 437.45 679.85C447.19 671.71 456.94 652.57 466.68 644.12C476.43 635.67 486.17 635 495.92 629.15C505.66 623.3 515.41 611.54 525.15 608.99C534.89 606.45 544.64 617.9 554.38 613.88C564.13 609.86 573.87 593.52 583.62 584.87C593.36 576.21 603.11 561.6 612.85 561.96C622.59 562.32 632.34 582.63 642.08 587C651.83 591.38 664.4 575.33 671.32 588.23C681.06 606.4 690.81 667.58 700.55 696.04C710.29 724.49 720.04 737.98 729.78 758.95" stroke="#B4EABA" stroke-width="3.1" fill="none" stroke-linejoin="round" stroke-linecap="round" stroke-dasharray="8 12.5"/>
<rect x="51.42" y="807.93" width="12" height="12" fill="#B4EABA"/>
<rect x="80.65" y="852.52" width="12" height="12" fill="#B4EABA"/>
<rect x="109.88" y="855.57" width="12" height="12" fill="#B4EABA"/>
<rect x="139.12" y="856.18" width="12" height="12" fill="#B4EABA"/>
<rect x="168.35" y="856.18" width="12" height="12" fill="#B4EABA"/>
<rect x="197.58" y="856.18" width="12" height="12" fill="#B4EABA"/>
<rect x="226.82" y="856.18" width="12" height="12" fill="#B4EABA"/>
<rect x="256.05" y="856.18" width="12" height="12" fill="#B4EABA"/>
<rect x="285.28" y="855.27" width="12" height="12" fill="#B4EABA"/>
<rect x="314.52" y="829.61" width="12" height="12" fill="#B4EABA"/>
<rect x="343.75" y="723.02" width="12" height="12" fill="#B4EABA"/>
<rect x="372.98" y="734.02" width="12" height="12" fill="#B4EABA"/>
<rect x="402.22" y="686.98" width="12" height="12" fill="#B4EABA"/>
<rect x="431.45" y="673.85" width="12" height="12" fill="#B4EABA"/>
<rect x="460.68" y="638.12" width="12" height="12" fill="#B4EABA"/>
<rect x="489.92" y="623.15" width="12" height="12" fill="#B4EABA"/>
<rect x="519.15" y="602.99" width="12" height="12" fill="#B4EABA"/>
<rect x="548.38" y="607.88" width="12" height="12" fill="#B4EABA"/>
<rect x="577.62" y="578.87" width="12" height="12" fill="#B4EABA"/>
<rect x="606.85" y="555.96" width="12" height="12" fill="#B4EABA"/>
<rect x="636.08" y="581" width="12" height="12" fill="#B4EABA"/>
<rect x="665.32" y="582.23" width="12" height="12" fill="#B4EABA"/>
<rect x="694.55" y="690.04" width="12" height="12" fill="#B4EABA"/>
<rect x="723.78" y="752.95" width="12" height="12" fill="#B4EABA"/>
<path d="M57.42 773C67.16 798.45 76.91 835.21 86.65 849.36C95.29 861.9 106.14 856.02 115.88 857.91C125.63 859.79 135.37 860.1 145.12 860.66C154.86 861.22 164.61 861.11 174.35 861.27C184.09 861.42 193.84 861.52 203.58 861.57C213.33 861.62 223.07 861.57 232.82 861.57C242.56 861.57 252.31 861.83 262.05 861.57C271.79 861.32 282.54 871.78 291.28 860.05C301.03 846.96 311.23 823.19 320.52 783.08C330.26 740.98 340.01 625.18 349.75 607.47C359.49 589.75 369.24 670.23 378.98 676.8C388.73 683.36 398.47 649.56 408.22 646.87C417.96 644.17 427.71 659.74 437.45 660.61C447.19 661.47 456.94 652.97 466.68 652.06C476.43 651.14 486.17 654.45 495.92 655.11C505.66 655.77 515.41 655.06 525.15 656.03C534.89 656.99 544.64 660.15 554.38 660.91C564.13 661.68 573.87 663.15 583.62 660.61C593.36 658.06 603.11 644.83 612.85 645.64C622.59 646.46 632.34 663.26 642.08 665.5C651.83 667.74 661.57 655.31 671.32 659.08C681.06 662.85 690.81 680.92 700.55 688.1C710.29 695.27 720.04 697.46 729.78 702.15" stroke="#ABEAF4" stroke-width="3.1" fill="none" stroke-linejoin="round" stroke-linecap="round" stroke-dasharray="8 12.5"/>
<path d="M57.42 766.85L63.82 779.15L51.02 779.15Z" fill="#ABEAF4"/>
<path d="M86.65 843.21L93.05 855.51L80.25 855.51Z" fill="#ABEAF4"/>
<path d="M115.88 851.76L122.28 864.06L109.48 864.06Z" fill="#ABEAF4"/>
<path d="M145.12 854.51L151.52 866.81L138.72 866.81Z" fill="#ABEAF4"/>
<path d="M174.35 855.12L180.75 867.42L167.95 867.42Z" fill="#ABEAF4"/>
<path d="M203.58 855.42L209.98 867.72L197.18 867.72Z" fill="#ABEAF4"/>
<path d="M232.82 855.42L239.22 867.72L226.42 867.72Z" fill="#ABEAF4"/>
<path d="M262.05 855.42L268.45 867.72L255.65 867.72Z" fill="#ABEAF4"/>
<path d="M291.28 853.9L297.68 866.2L284.88 866.2Z" fill="#ABEAF4"/>
<path d="M320.52 776.93L326.92 789.23L314.12 789.23Z" fill="#ABEAF4"/>
<path d="M349.75 601.32L356.15 613.62L343.35 613.62Z" fill="#ABEAF4"/>
<path d="M378.98 670.65L385.38 682.95L372.58 682.95Z" fill="#ABEAF4"/>
<path d="M408.22 640.72L414.62 653.01L401.82 653.01Z" fill="#ABEAF4"/>
<path d="M437.45 654.46L443.85 666.76L431.05 666.76Z" fill="#ABEAF4"/>
<path d="M466.68 645.91L473.08 658.21L460.28 658.21Z" fill="#ABEAF4"/>
<path d="M495.92 648.96L502.32 661.26L489.52 661.26Z" fill="#ABEAF4"/>
<path d="M525.15 649.88L531.55 662.18L518.75 662.18Z" fill="#ABEAF4"/>
<path d="M554.38 654.76L560.78 667.06L547.98 667.06Z" fill="#ABEAF4"/>
<path d="M583.62 654.46L590.02 666.76L577.22 666.76Z" fill="#ABEAF4"/>
<path d="M612.85 639.49L619.25 651.79L606.45 651.79Z" fill="#ABEAF4"/>
<path d="M642.08 659.35L648.48 671.65L635.68 671.65Z" fill="#ABEAF4"/>
<path d="M671.32 652.93L677.72 665.23L664.92 665.23Z" fill="#ABEAF4"/>
<path d="M700.55 681.95L706.95 694.25L694.15 694.25Z" fill="#ABEAF4"/>
<path d="M729.78 696L736.18 708.3L723.38 708.3Z" fill="#ABEAF4"/>
<text x="29.8" y="867.3" font-size="12.7" fill="#000" text-anchor="end" textLength="15.4" lengthAdjust="spacingAndGlyphs" >0%</text>
<text x="29.8" y="806.22" font-size="12.7" fill="#000" text-anchor="end" textLength="15.4" lengthAdjust="spacingAndGlyphs" >2%</text>
<text x="29.8" y="745.13" font-size="12.7" fill="#000" text-anchor="end" textLength="15.4" lengthAdjust="spacingAndGlyphs" >4%</text>
<text x="29.8" y="684.05" font-size="12.7" fill="#000" text-anchor="end" textLength="15.4" lengthAdjust="spacingAndGlyphs" >6%</text>
<text x="29.8" y="622.97" font-size="12.7" fill="#000" text-anchor="end" textLength="15.4" lengthAdjust="spacingAndGlyphs" >8%</text>
<text x="29.8" y="561.88" font-size="12.7" fill="#000" text-anchor="end" textLength="22.7" lengthAdjust="spacingAndGlyphs" >10%</text>
<text x="29.8" y="500.8" font-size="12.7" fill="#000" text-anchor="end" textLength="22.7" lengthAdjust="spacingAndGlyphs" >12%</text>
<text transform="translate(62.02 872.3) rotate(-90)" font-size="12.4" text-anchor="end" textLength="6" lengthAdjust="spacingAndGlyphs">0</text>
<text transform="translate(91.25 872.3) rotate(-90)" font-size="12.4" text-anchor="end" textLength="6" lengthAdjust="spacingAndGlyphs">1</text>
<text transform="translate(120.48 872.3) rotate(-90)" font-size="12.4" text-anchor="end" textLength="6" lengthAdjust="spacingAndGlyphs">2</text>
<text transform="translate(149.72 872.3) rotate(-90)" font-size="12.4" text-anchor="end" textLength="6" lengthAdjust="spacingAndGlyphs">3</text>
<text transform="translate(178.95 872.3) rotate(-90)" font-size="12.4" text-anchor="end" textLength="6" lengthAdjust="spacingAndGlyphs">4</text>
<text transform="translate(208.18 872.3) rotate(-90)" font-size="12.4" text-anchor="end" textLength="6" lengthAdjust="spacingAndGlyphs">5</text>
<text transform="translate(237.42 872.3) rotate(-90)" font-size="12.4" text-anchor="end" textLength="6" lengthAdjust="spacingAndGlyphs">6</text>
<text transform="translate(266.65 872.3) rotate(-90)" font-size="12.4" text-anchor="end" textLength="6" lengthAdjust="spacingAndGlyphs">7</text>
<text transform="translate(295.88 872.3) rotate(-90)" font-size="12.4" text-anchor="end" textLength="6" lengthAdjust="spacingAndGlyphs">8</text>
<text transform="translate(325.12 872.3) rotate(-90)" font-size="12.4" text-anchor="end" textLength="6" lengthAdjust="spacingAndGlyphs">9</text>
<text transform="translate(354.35 872.3) rotate(-90)" font-size="12.4" text-anchor="end" textLength="12" lengthAdjust="spacingAndGlyphs">10</text>
<text transform="translate(383.58 872.3) rotate(-90)" font-size="12.4" text-anchor="end" textLength="12" lengthAdjust="spacingAndGlyphs">11</text>
<text transform="translate(412.82 872.3) rotate(-90)" font-size="12.4" text-anchor="end" textLength="12" lengthAdjust="spacingAndGlyphs">12</text>
<text transform="translate(442.05 872.3) rotate(-90)" font-size="12.4" text-anchor="end" textLength="12" lengthAdjust="spacingAndGlyphs">13</text>
<text transform="translate(471.28 872.3) rotate(-90)" font-size="12.4" text-anchor="end" textLength="12" lengthAdjust="spacingAndGlyphs">14</text>
<text transform="translate(500.52 872.3) rotate(-90)" font-size="12.4" text-anchor="end" textLength="12" lengthAdjust="spacingAndGlyphs">15</text>
<text transform="translate(529.75 872.3) rotate(-90)" font-size="12.4" text-anchor="end" textLength="12" lengthAdjust="spacingAndGlyphs">16</text>
<text transform="translate(558.98 872.3) rotate(-90)" font-size="12.4" text-anchor="end" textLength="12" lengthAdjust="spacingAndGlyphs">17</text>
<text transform="translate(588.22 872.3) rotate(-90)" font-size="12.4" text-anchor="end" textLength="12" lengthAdjust="spacingAndGlyphs">18</text>
<text transform="translate(617.45 872.3) rotate(-90)" font-size="12.4" text-anchor="end" textLength="12" lengthAdjust="spacingAndGlyphs">19</text>
<text transform="translate(646.68 872.3) rotate(-90)" font-size="12.4" text-anchor="end" textLength="12" lengthAdjust="spacingAndGlyphs">20</text>
<text transform="translate(675.92 872.3) rotate(-90)" font-size="12.4" text-anchor="end" textLength="12" lengthAdjust="spacingAndGlyphs">21</text>
<text transform="translate(705.15 872.3) rotate(-90)" font-size="12.4" text-anchor="end" textLength="12" lengthAdjust="spacingAndGlyphs">22</text>
<text transform="translate(734.38 872.3) rotate(-90)" font-size="12.4" text-anchor="end" textLength="12" lengthAdjust="spacingAndGlyphs">23</text>
<text x="331.7" y="894.1" font-size="13.3" fill="#000" font-weight="bold" textLength="34.1" lengthAdjust="spacingAndGlyphs" >Время</text>
<text x="370.8" y="894.1" font-size="13.3" fill="#000" font-weight="bold" textLength="40.5" lengthAdjust="spacingAndGlyphs" >начала</text>
<text x="416.3" y="894.1" font-size="13.3" fill="#000" font-weight="bold" textLength="39.2" lengthAdjust="spacingAndGlyphs" >сеанса</text>
<text x="4.7" y="483.7" font-size="13.3" fill="#000" font-weight="bold" textLength="74.8" lengthAdjust="spacingAndGlyphs" >Зависимость</text>
<text x="83.9" y="483.7" font-size="13.3" fill="#000" font-weight="bold" textLength="11.7" lengthAdjust="spacingAndGlyphs" >от</text>
<text x="99.7" y="483.7" font-size="13.3" fill="#000" font-weight="bold" textLength="52.7" lengthAdjust="spacingAndGlyphs" >времени</text>
<text x="156.6" y="483.7" font-size="13.3" fill="#000" font-weight="bold" textLength="40.7" lengthAdjust="spacingAndGlyphs" >начала</text>
<text x="201.7" y="483.7" font-size="13.3" fill="#000" font-weight="bold" textLength="37.3" lengthAdjust="spacingAndGlyphs" >сеанса</text>
<text x="243.2" y="483.7" font-size="13.3" fill="#000" font-weight="bold" textLength="29.9" lengthAdjust="spacingAndGlyphs" >доли</text>
<text x="278.1" y="483.7" font-size="13.3" fill="#000" font-weight="bold" textLength="66.8" lengthAdjust="spacingAndGlyphs" >проданных</text>
<text x="349" y="483.7" font-size="13.3" fill="#000" font-weight="bold" textLength="49.1" lengthAdjust="spacingAndGlyphs" >билетов,</text>
<text x="403.1" y="483.7" font-size="13.3" fill="#000" font-weight="bold" textLength="55.1" lengthAdjust="spacingAndGlyphs" >кассовых</text>
<text x="462.4" y="483.7" font-size="13.3" fill="#000" font-weight="bold" textLength="39.9" lengthAdjust="spacingAndGlyphs" >сборов</text>
<text x="507.3" y="483.7" font-size="13.3" fill="#000" font-weight="bold" textLength="7.4" lengthAdjust="spacingAndGlyphs" >и</text>
<text x="518.1" y="483.7" font-size="13.3" fill="#000" font-weight="bold" textLength="45.7" lengthAdjust="spacingAndGlyphs" >сеансов</text>
<text x="568.6" y="483.7" font-size="13.3" fill="#7B2C93" font-weight="bold" textLength="97.6" lengthAdjust="spacingAndGlyphs" >в выходные дни</text>
<g transform="translate(1.7 0)">
<path d="M61 515H96" stroke="#7030A0" stroke-width="6.4" stroke-linecap="round"/>
<path d="M78.5 510.4L83.1 515L78.5 519.6L73.9 515Z" fill="#7030A0"/>
<text x="100" y="519" font-size="13" fill="#000" textLength="46.8" lengthAdjust="spacingAndGlyphs" >Зрители</text>
</g>
<g transform="translate(1.7 0)">
<path d="M61 545.8H96" stroke="#00B050" stroke-width="6.4" stroke-linecap="round"/>
<rect x="74" y="541.3" width="9" height="9" fill="#00B050"/>
<text x="100" y="549.8" font-size="13" fill="#000" textLength="94.8" lengthAdjust="spacingAndGlyphs" >Кассовые сборы</text>
</g>
<g transform="translate(1.7 0)">
<path d="M61 576.6H96" stroke="#00B0F0" stroke-width="6.4" stroke-linecap="round"/>
<path d="M78.5 572.1L82.5 580.1L74.5 580.1Z" fill="#00B0F0"/>
<text x="100" y="580.6" font-size="13" fill="#000" textLength="42.2" lengthAdjust="spacingAndGlyphs" >Сеансы</text>
</g>
<g transform="translate(1.7 0)">
<path d="M60.5 607.4H70.5M81 607.4H91.5" stroke="#B3A2C7" stroke-width="3.4" stroke-linecap="round"/>
<path d="M79.5 602.4L84.5 607.4L79.5 612.4L74.5 607.4Z" fill="#B3A2C7"/>
<text x="100" y="611.4" font-size="13" fill="#000" textLength="46.8" lengthAdjust="spacingAndGlyphs" >Зрители</text>
<text x="100" y="627.9" font-size="13" fill="#000" textLength="121.6" lengthAdjust="spacingAndGlyphs" >предыдущей недели</text>
</g>
<g transform="translate(1.7 0)">
<path d="M60.5 638.2H70.5M81 638.2H91.5" stroke="#B4EABA" stroke-width="3.4" stroke-linecap="round"/>
<rect x="75.25" y="633.95" width="8.5" height="8.5" fill="#B4EABA"/>
<text x="100" y="642.2" font-size="13" fill="#000" textLength="94.8" lengthAdjust="spacingAndGlyphs" >Кассовые сборы</text>
<text x="100" y="658.7" font-size="13" fill="#000" textLength="121.6" lengthAdjust="spacingAndGlyphs" >предыдущей недели</text>
</g>
<g transform="translate(1.7 0)">
<path d="M60.5 669H70.5M81 669H91.5" stroke="#ABEAF4" stroke-width="3.4" stroke-linecap="round"/>
<path d="M78.5 664.2L83 673.2L74 673.2Z" fill="#ABEAF4"/>
<text x="100" y="673" font-size="13" fill="#000" textLength="42.2" lengthAdjust="spacingAndGlyphs" >Сеансы</text>
<text x="100" y="689.5" font-size="13" fill="#000" textLength="121.6" lengthAdjust="spacingAndGlyphs" >предыдущей недели</text>
</g>
</svg>
</body></html>
